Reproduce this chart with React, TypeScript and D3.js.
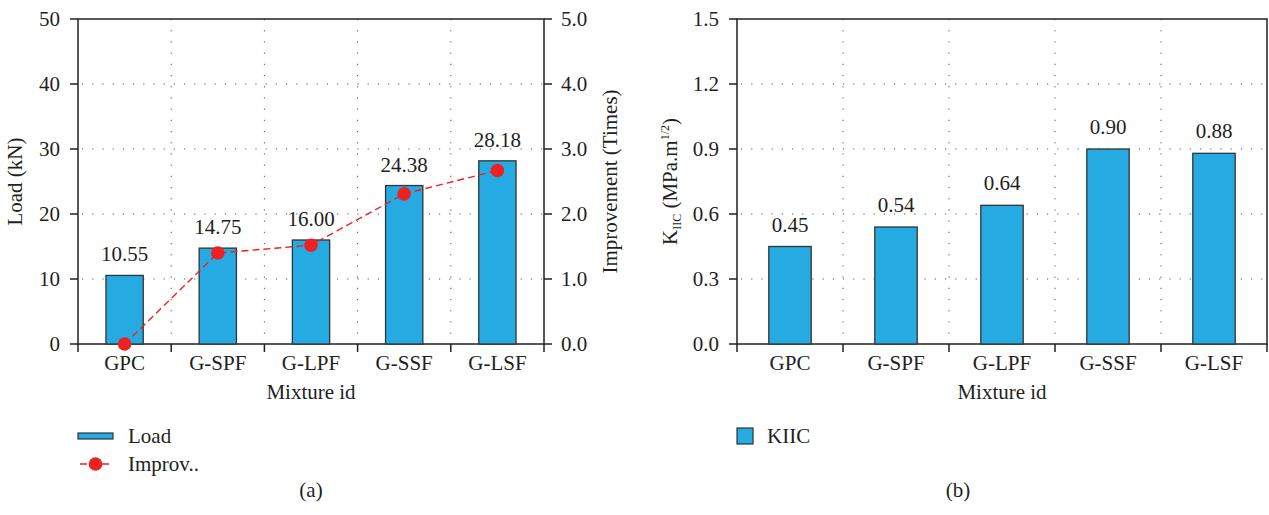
import React from "react";
import * as d3 from "d3";

const mixtures = ["GPC", "G-SPF", "G-LPF", "G-SSF", "G-LSF"];
const loadKN = [10.55, 14.75, 16.0, 24.38, 28.18];
const improvement = [0, 1.4, 1.52, 2.31, 2.67];
const kIIC = [0.45, 0.54, 0.64, 0.9, 0.88];
const loadTicks = [0, 10, 20, 30, 40, 50];
const improvTicks = [0, 1, 2, 3, 4, 5];
const kTicks = [0, 0.3, 0.6, 0.9, 1.2, 1.5];

const W = 1269;
const H = 515;
const FS = 21;
const BAR = "#25abe2";
const RED = "#ed2024";
const INK = "#231f20";

const top = 19;
const bottom = 344;

// every text carries the family itself
const T = (props) => (
  <text fontSize={FS} fill={INK} {...props}
    style={{ fontFamily: '"Liberation Serif", "Times New Roman", serif', ...(props.style || {}) }} />
);

function Frame({ x, ticks, y, fmt, rightTicks, rightFmt, yR }) {
  const [x0, x1] = x.range();
  const step = x.step();
  const bounds = d3.range(mixtures.length + 1).map((i) => x0 + i * step);
  return (
    <g>
      {/* grid */}
      {bounds.slice(1, -1).map((bx, i) => (
        <line key={"v" + i} x1={bx} x2={bx} y1={top} y2={bottom}
          stroke="#555" strokeWidth={1} strokeDasharray="1.2,10" />
      ))}
      {ticks.slice(1, -1).map((t, i) => (
        <line key={"h" + i} x1={x0} x2={x1} y1={y(t)} y2={y(t)}
          stroke="#555" strokeWidth={1} strokeDasharray="1.2,9" strokeDashoffset={-4} />
      ))}
      {/* box */}
      <rect x={x0} y={top} width={x1 - x0} height={bottom - top}
        fill="none" stroke={INK} strokeWidth={1.5} />
      {/* left ticks */}
      {ticks.map((t, i) => (
        <g key={"l" + i}>
          <line x1={x0 - 8} x2={x0} y1={y(t)} y2={y(t)} stroke={INK} strokeWidth={1.5} />
          <T x={x0 - 18} y={y(t)} textAnchor="end" dominantBaseline="central">{fmt(t)}</T>
        </g>
      ))}
      {rightTicks && rightTicks.map((t, i) => (
        <g key={"r" + i}>
          <line x1={x1} x2={x1 + 8} y1={yR(t)} y2={yR(t)} stroke={INK} strokeWidth={1.5} />
          <T x={x1 + 17} y={yR(t)} textAnchor="start" dominantBaseline="central">{rightFmt(t)}</T>
        </g>
      ))}
      {/* bottom ticks */}
      {bounds.map((bx, i) => (
        <line key={"b" + i} x1={bx} x2={bx} y1={bottom} y2={bottom + 8}
          stroke={INK} strokeWidth={1.5} />
      ))}
      {mixtures.map((m) => (
        <T key={m} x={x(m) + x.bandwidth() / 2} y={370} textAnchor="middle">{m}</T>
      ))}
    </g>
  );
}

export default function App() {
  const xA = d3.scaleBand().domain(mixtures).range([78, 544])
    .paddingInner(0.6).paddingOuter(0.3);
  const yLoad = d3.scaleLinear().domain([0, 50]).range([bottom, top]);
  const yImp = d3.scaleLinear().domain([0, 5]).range([bottom, top]);

  const xB = d3.scaleBand().domain(mixtures).range([737, 1267])
    .paddingInner(0.6).paddingOuter(0.3);
  const yK = d3.scaleLinear().domain([0, 1.5]).range([bottom, top]);

  const impLine = d3.line()
    .x((d, i) => xA(mixtures[i]) + xA.bandwidth() / 2)
    .y((d) => yImp(d));

  const cA = (xA.range()[0] + xA.range()[1]) / 2;
  const cB = (xB.range()[0] + xB.range()[1]) / 2;
  const midY = (top + bottom) / 2;

  return (
    <svg width={W} height={H} style={{ position: "absolute", left: 0, top: 0 }}>
      <rect width={W} height={H} fill="#fff" />

      {/* panel (a) */}
      <Frame x={xA} ticks={loadTicks} y={yLoad} fmt={(t) => d3.format("d")(t)}
        rightTicks={improvTicks} rightFmt={(t) => d3.format(".1f")(t)} yR={yImp} />
      {mixtures.map((m, i) => (
        <g key={m}>
          <rect x={xA(m)} y={yLoad(loadKN[i])} width={xA.bandwidth()}
            height={bottom - yLoad(loadKN[i])} fill={BAR} stroke="#333" strokeWidth={1.3} />
          <T x={xA(m) + xA.bandwidth() / 2} y={yLoad(loadKN[i]) - 14}
            textAnchor="middle">{loadKN[i].toFixed(2)}</T>
        </g>
      ))}
      <path d={impLine(improvement)} fill="none" stroke={RED} strokeWidth={1.4}
        strokeDasharray="7,4" />
      {improvement.map((v, i) => (
        <circle key={i} cx={xA(mixtures[i]) + xA.bandwidth() / 2} cy={yImp(v)} r={6.8} fill={RED} />
      ))}
      <T transform={`translate(22,${midY}) rotate(-90)`} textAnchor="middle">Load (kN)</T>
      <T transform={`translate(617,${midY}) rotate(-90)`} textAnchor="middle">Improvement (Times)</T>
      <T x={cA} y={399} textAnchor="middle">Mixture id</T>

      {/* legend (a) */}
      <rect x={78} y={433} width={35} height={6} fill={BAR} stroke="#333" strokeWidth={1.2} />
      <T x={128} y={443}>Load</T>
      <line x1={78} x2={113} y1={464} y2={464} stroke={RED} strokeWidth={1.4} strokeDasharray="7,4"
        strokeDashoffset={-2} />
      <circle cx={95.5} cy={464} r={6.8} fill={RED} />
      <T x={128} y={471}>Improv..</T>
      <T x={cA} y={497} textAnchor="middle">(a)</T>

      {/* panel (b) */}
      <Frame x={xB} ticks={kTicks} y={yK} fmt={(t) => d3.format(".1f")(t)} />
      {mixtures.map((m, i) => (
        <g key={m}>
          <rect x={xB(m)} y={yK(kIIC[i])} width={xB.bandwidth()}
            height={bottom - yK(kIIC[i])} fill={BAR} stroke="#333" strokeWidth={1.3} />
          <T x={xB(m) + xB.bandwidth() / 2} y={yK(kIIC[i]) - 15}
            textAnchor="middle">{kIIC[i].toFixed(2)}</T>
        </g>
      ))}
      <T transform={`translate(677,${midY}) rotate(-90)`} textAnchor="middle">
        K<tspan fontSize={12} dy={4}>IIC</tspan>
        <tspan dy={-4}> (MPa.m</tspan>
        <tspan fontSize={12} dy={-8}>1/2</tspan>
        <tspan dy={8}>)</tspan>
      </T>
      <T x={cB} y={399} textAnchor="middle">Mixture id</T>

      {/* legend (b) */}
      <rect x={737} y={428} width={16} height={16} fill={BAR} stroke="#333" strokeWidth={1.2} />
      <T x={767} y={443}>KIIC</T>
      <T x={958} y={497} textAnchor="middle">(b)</T>
    </svg>
  );
}
